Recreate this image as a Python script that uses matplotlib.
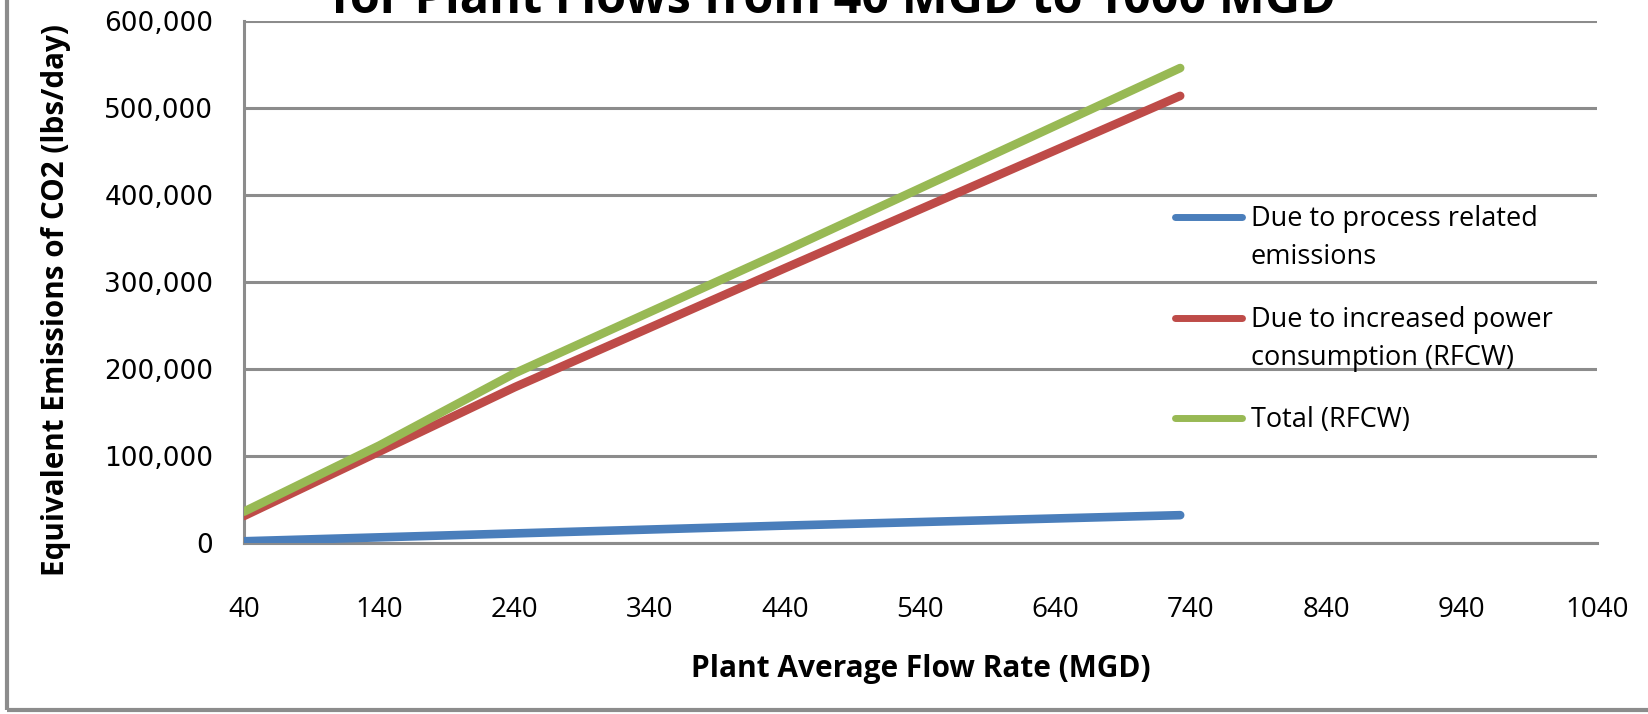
import matplotlib.pyplot as plt
from matplotlib.patches import Rectangle
from matplotlib.ticker import FuncFormatter

# plant flow (MGD) and equivalent CO2 emissions (lbs/day)
flow = [40, 140, 240, 440, 732]
process = [2000, 6500, 11000, 20000, 32000]
power_rfcw = [31000, 105000, 179000, 316000, 514000]
total_rfcw = [36000, 112000, 195000, 336000, 546000]

labels = ["Due to process related\nemissions",
          "Due to increased power\nconsumption (RFCW)",
          "Total (RFCW)"]
colors = ["#4A7EBB", "#BE4B48", "#98B954"]

x_ticks = list(range(40, 1041, 100))
y_ticks = list(range(0, 600001, 100000))

grey = "#8C8C8C"
txt_font = ["Open Sans", "DejaVu Sans"]

fig = plt.figure(figsize=(16.48, 7.14), dpi=100)
ax = fig.add_axes([0.148, 0.2395, 0.821, 0.731])

for y, c in zip([process, power_rfcw, total_rfcw], colors):
    ax.plot(flow, y, color=c, lw=6.2, solid_capstyle="round", zorder=3)

ax.set_xlim(40, 1040)
ax.set_ylim(0, 600000)
ax.set_xticks(x_ticks)
ax.set_yticks(y_ticks)
ax.yaxis.set_major_formatter(FuncFormatter(lambda v, p: f"{int(v):,}"))
ax.grid(axis="y", color=grey, lw=2.2)
ax.set_axisbelow(True)
for s in ["top", "right"]:
    ax.spines[s].set_visible(False)
for s in ["left", "bottom"]:
    ax.spines[s].set_color(grey)
    ax.spines[s].set_linewidth(2.2)
ax.tick_params(axis="both", length=0)
ax.tick_params(axis="y", pad=22, labelsize=19)
ax.tick_params(axis="x", pad=38, labelsize=20)
for t in ax.get_xticklabels():
    t.set_family(txt_font)

ax.set_xlabel("Plant Average Flow Rate (MGD)", family=txt_font,
              fontsize=21.5, fontweight="bold", labelpad=22)

# y label sits a bit below the axes centre, as in the original
fig.text(0.034, 0.58, "Equivalent Emissions of CO2 (lbs/day)",
         family=txt_font, fontsize=21.3, fontweight="bold",
         rotation=90, ha="center", va="center")

# title is cropped at the top of the picture
fig.text(0.506, 0.982, "for Plant Flows from 40 MGD to 1000 MGD",
         family=txt_font, fontsize=35, fontweight="bold",
         ha="center", va="baseline")

# legend drawn by hand so the line sits on the first text row
leg_y = [0.624, 0.431, 0.239]
for lab, c, yy in zip(labels, colors, leg_y):
    ax.plot([0.688, 0.738], [yy, yy], transform=ax.transAxes, color=c,
            lw=5, solid_capstyle="round", clip_on=False)
    ax.text(0.744, yy + 0.024, lab, transform=ax.transAxes, family=txt_font,
            fontsize=19.5, va="top", ha="left", linespacing=1.5)

fig.add_artist(Rectangle((0.004, 0.005), 1.2, 1.2, transform=fig.transFigure,
                         fill=False, edgecolor=grey, lw=3))

fig.savefig("out.png", dpi=100)
